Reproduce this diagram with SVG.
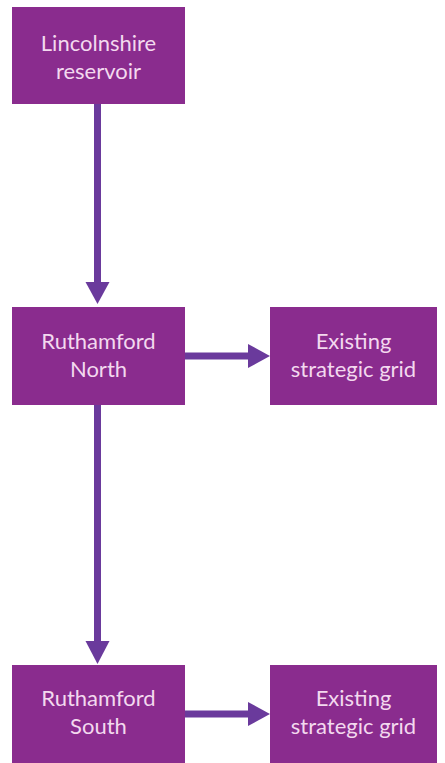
<svg xmlns="http://www.w3.org/2000/svg" width="445" height="763" viewBox="0 0 445 763">
<style>
.box{fill:#8a2c8e}
.lbl{font-family:Lato,"Open Sans","Liberation Sans",sans-serif;font-size:22px;fill:#f3d9ef;text-anchor:middle}
.conn{stroke:#6a3a9c;stroke-width:7;fill:none}
.head{fill:#6a3a9c}
</style>
<rect width="445" height="763" fill="#ffffff"/>
<g id="lincolnshire">
<rect class="box" x="12" y="7" width="173" height="97"/>
<text class="lbl" x="98.5" y="51">Lincolnshire</text>
<text class="lbl" x="98.5" y="79">reservoir</text>
</g>
<g id="ruthamford-north">
<rect class="box" x="12" y="307" width="173" height="98"/>
<text class="lbl" x="98.5" y="349">Ruthamford</text>
<text class="lbl" x="98.5" y="377">North</text>
</g>
<g id="grid-1">
<rect class="box" x="270" y="307" width="167" height="98"/>
<text class="lbl" x="353.5" y="349">Existing</text>
<text class="lbl" x="353.5" y="377">strategic grid</text>
</g>
<g id="ruthamford-south">
<rect class="box" x="12" y="665" width="173" height="98"/>
<text class="lbl" x="98.5" y="706">Ruthamford</text>
<text class="lbl" x="98.5" y="734">South</text>
</g>
<g id="grid-2">
<rect class="box" x="270" y="665" width="167" height="98"/>
<text class="lbl" x="353.5" y="706">Existing</text>
<text class="lbl" x="353.5" y="734">strategic grid</text>
</g>
<g id="connectors">
<line class="conn" x1="97.5" y1="104" x2="97.5" y2="283"/>
<polygon class="head" points="85.5,282 109.5,282 97.5,304"/>
<line class="conn" x1="185" y1="356" x2="249" y2="356"/>
<polygon class="head" points="248,344 248,368 270,356"/>
<line class="conn" x1="97.5" y1="405" x2="97.5" y2="642"/>
<polygon class="head" points="85.5,641 109.5,641 97.5,664"/>
<line class="conn" x1="185" y1="714" x2="249" y2="714"/>
<polygon class="head" points="248,702 248,726 270,714"/>
</g>
</svg>
